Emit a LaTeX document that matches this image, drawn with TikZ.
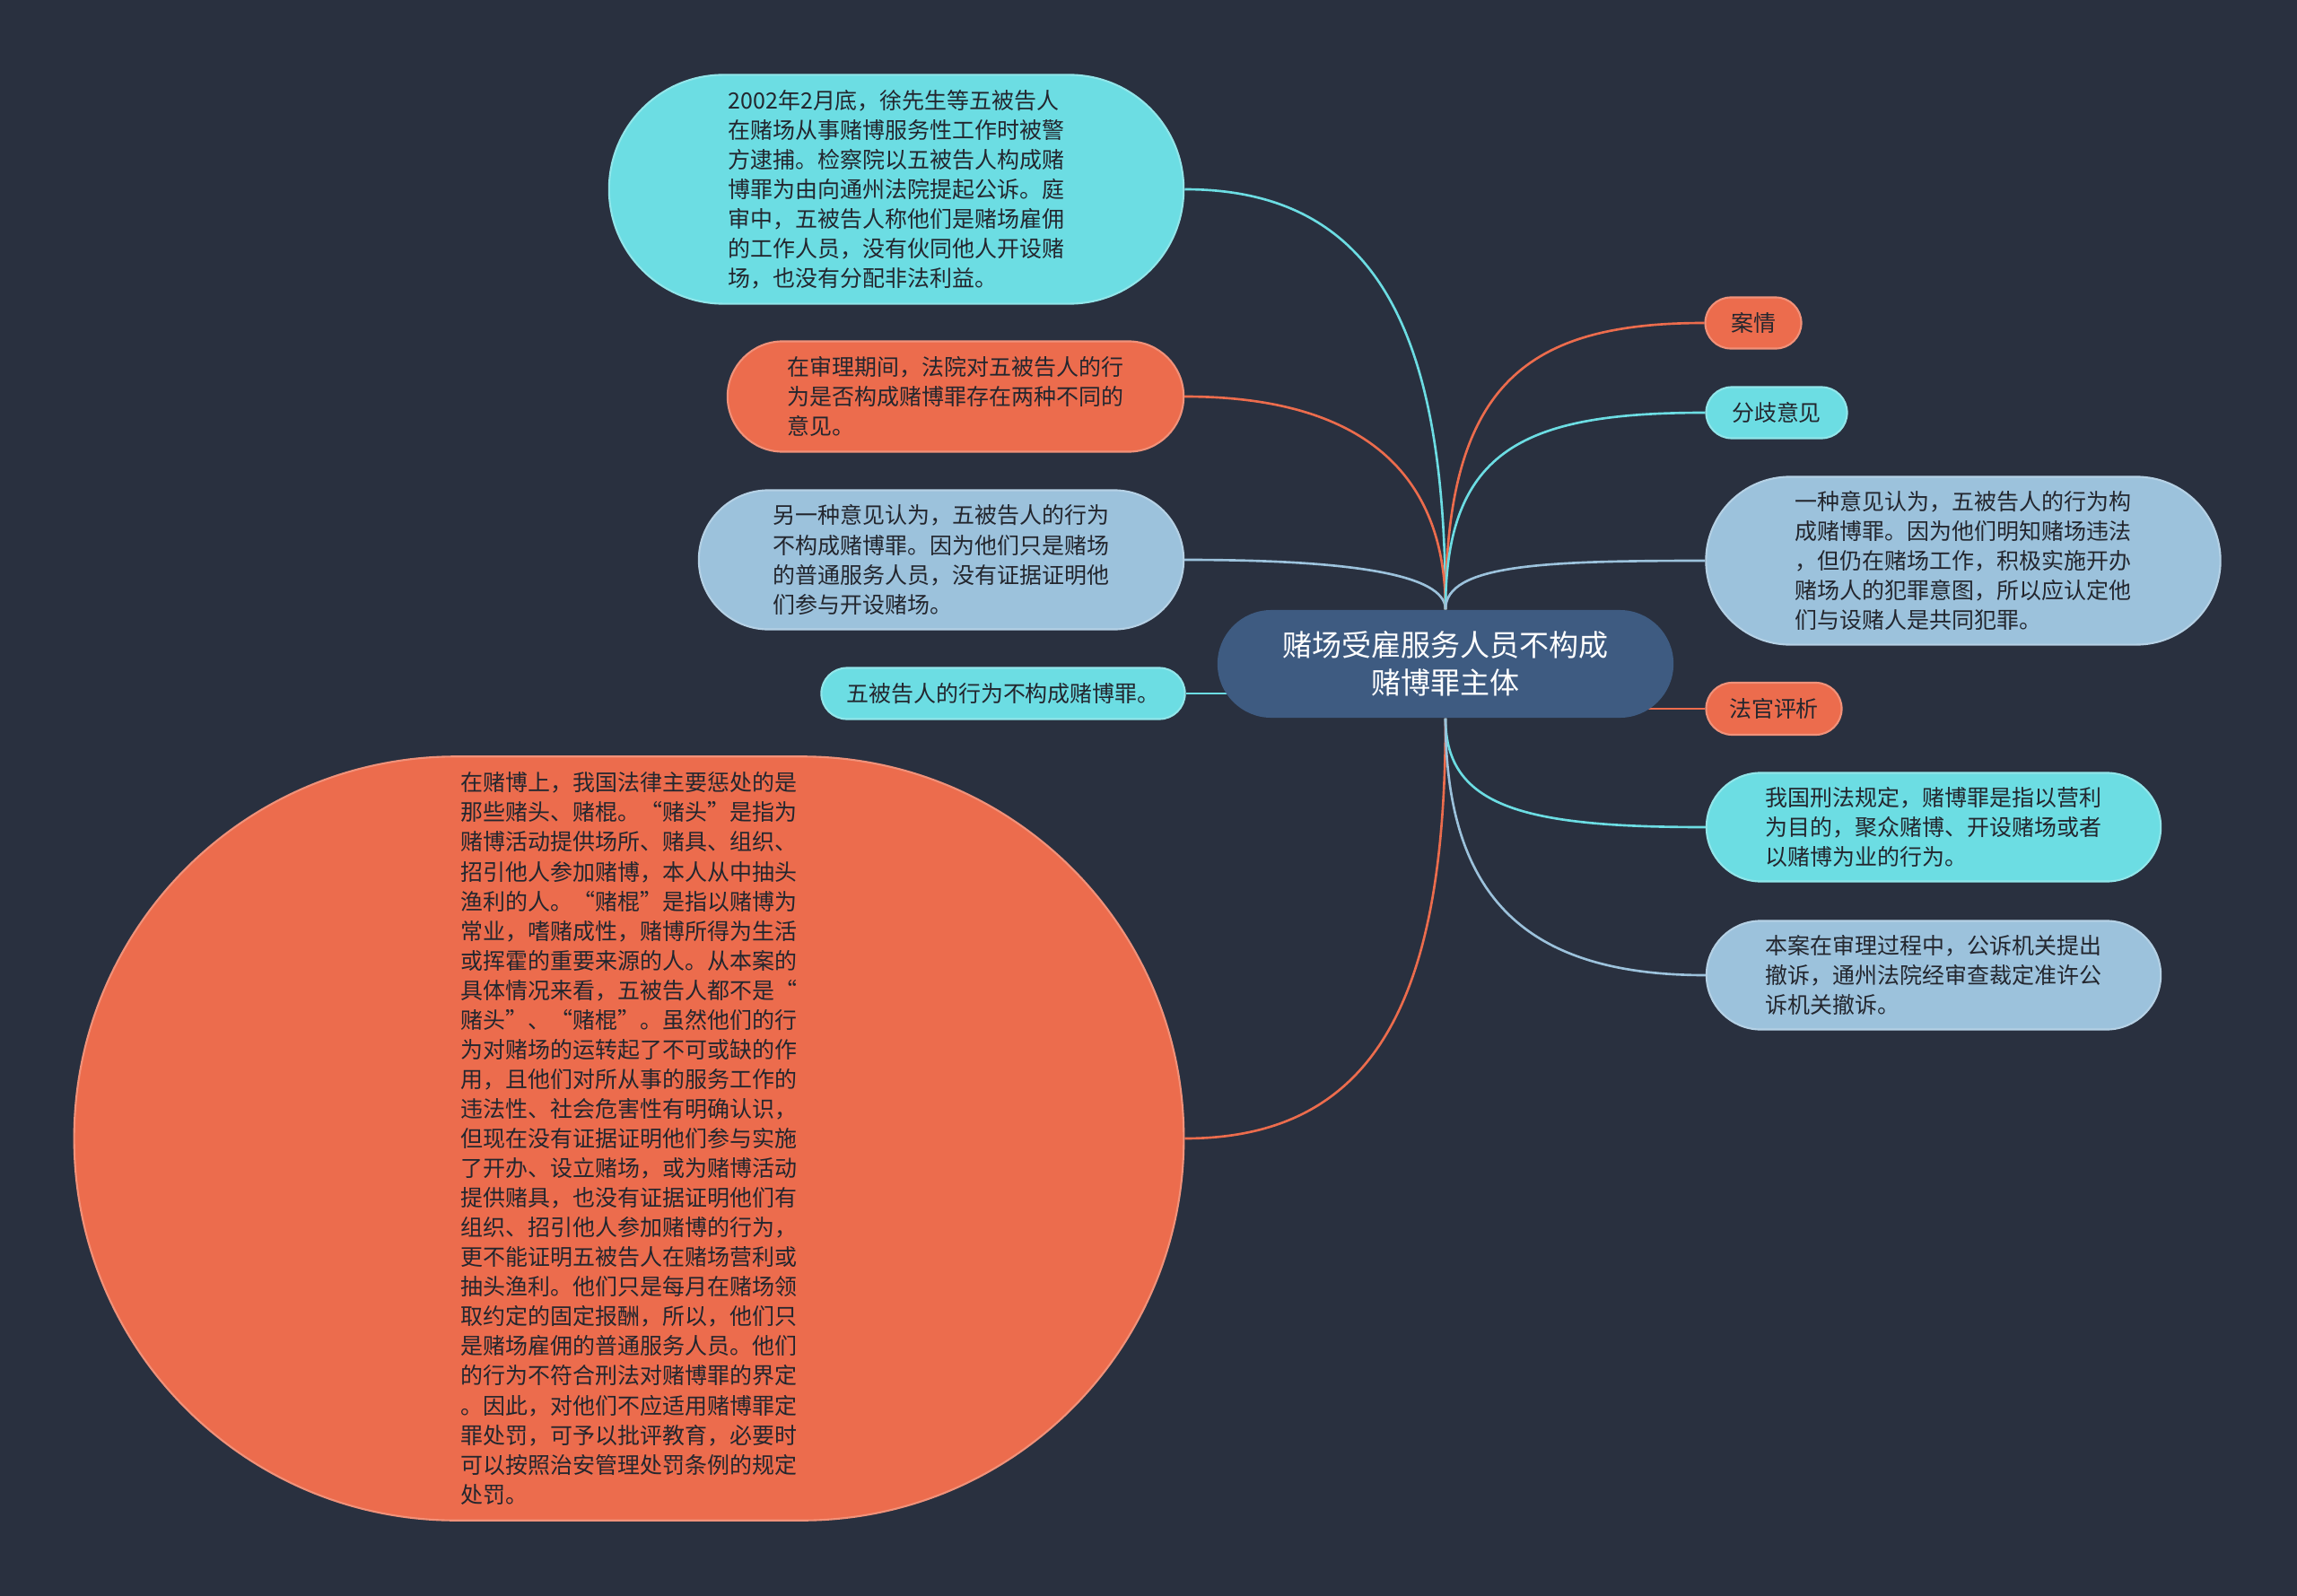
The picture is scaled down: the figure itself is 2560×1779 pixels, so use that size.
\documentclass[tikz,border=0pt]{standalone}
\usepackage{fontspec}
\setmainfont{Noto Sans CJK SC}
\usepackage{tikz}
\usetikzlibrary{calc}
\usetikzlibrary{backgrounds}
\definecolor{bg}{HTML}{29303F}
\definecolor{rootblue}{HTML}{3E5B81}
\definecolor{coral}{HTML}{EC6C4D}
\definecolor{aqua}{HTML}{6CDDE3}
\definecolor{pale}{HTML}{9CC2DC}
\definecolor{ink}{HTML}{23262E}

\begin{document}
\begin{tikzpicture}[x=0.01cm, y=-0.01cm,
      pill/.style 2 args={inner sep=0pt, minimum width=#1cm, minimum height=#2cm,
                          rounded corners=#2cm/2, align=left, text=ink,
                          font=\fontsize{7.1pt}{9.4pt}\selectfont},
      coralpill/.style={fill=coral, draw=coral!75!white, line width=0.6pt},
      aquapill/.style={fill=aqua, draw=aqua!75!white, line width=0.6pt},
      palepill/.style={fill=pale, draw=pale!75!white, line width=0.6pt},
      link/.style={line width=0.75pt}
      ]
      % canvas
      \useasboundingbox (0,0) rectangle (2560,1779);

      % centre
      \node[pill={5.08}{1.20}, fill=rootblue, text=white, align=center,
            font=\fontsize{9.4pt}{11.95pt}\selectfont] (Root) at (1611,740)
            {赌场受雇服务人员不构成\\赌博罪主体};

      % left side
      \node[pill={6.40}{2.55}, aquapill] (CaseText) at (999,211)
            {2002年2月底，徐先生等五被告人\\
             在赌场从事赌博服务性工作时被警\\
             方逮捕。检察院以五被告人构成赌\\
             博罪为由向通州法院提起公诉。庭\\
             审中，五被告人称他们是赌场雇佣\\
             的工作人员，没有伙同他人开设赌\\
             场，也没有分配非法利益。};
      \node[pill={5.08}{1.23}, coralpill] (SplitText) at (1065,442)
            {在审理期间，法院对五被告人的行\\
             为是否构成赌博罪存在两种不同的\\
             意见。};
      \node[pill={5.40}{1.55}, palepill] (OpinionB) at (1049,624)
            {另一种意见认为，五被告人的行为\\
             不构成赌博罪。因为他们只是赌场\\
             的普通服务人员，没有证据证明他\\
             们参与开设赌场。};
      \node[pill={4.05}{0.57}, aquapill] (Verdict) at (1118,773)
            {五被告人的行为不构成赌博罪。};
      \node[pill={12.36}{8.51}, coralpill] (Analysis) at (701,1269)
            {在赌博上，我国法律主要惩处的是\\
             那些赌头、赌棍。“赌头”是指为\\
             赌博活动提供场所、赌具、组织、\\
             招引他人参加赌博，本人从中抽头\\
             渔利的人。“赌棍”是指以赌博为\\
             常业，嗜赌成性，赌博所得为生活\\
             或挥霍的重要来源的人。从本案的\\
             具体情况来看，五被告人都不是“\\
             赌头”、“赌棍”。虽然他们的行\\
             为对赌场的运转起了不可或缺的作\\
             用，且他们对所从事的服务工作的\\
             违法性、社会危害性有明确认识，\\
             但现在没有证据证明他们参与实施\\
             了开办、设立赌场，或为赌博活动\\
             提供赌具，也没有证据证明他们有\\
             组织、招引他人参加赌博的行为，\\
             更不能证明五被告人在赌场营利或\\
             抽头渔利。他们只是每月在赌场领\\
             取约定的固定报酬，所以，他们只\\
             是赌场雇佣的普通服务人员。他们\\
             的行为不符合刑法对赌博罪的界定\\
             。因此，对他们不应适用赌博罪定\\
             罪处罚，可予以批评教育，必要时\\
             可以按照治安管理处罚条例的规定\\
             处罚。};

      % right side
      \node[pill={1.07}{0.57}, coralpill] (Case) at (1954,360) {案情};
      \node[pill={1.57}{0.57}, aquapill] (Split) at (1980,460) {分歧意见};
      \node[pill={5.73}{1.87}, palepill] (OpinionA) at (2188,625)
            {一种意见认为，五被告人的行为构\\
             成赌博罪。因为他们明知赌场违法\\
             ，但仍在赌场工作，积极实施开办\\
             赌场人的犯罪意图，所以应认定他\\
             们与设赌人是共同犯罪。};
      \node[pill={1.51}{0.58}, coralpill] (Judge) at (1977,790) {法官评析};
      \node[pill={5.06}{1.21}, aquapill] (LawText) at (2155,922)
            {我国刑法规定，赌博罪是指以营利\\
             为目的，聚众赌博、开设赌场或者\\
             以赌博为业的行为。};
      \node[pill={5.06}{1.21}, palepill] (Outcome) at (2155,1087)
            {本案在审理过程中，公诉机关提出\\
             撤诉，通州法院经审查裁定准许公\\
             诉机关撤诉。};

      % links
      \begin{scope}[on background layer]
      \fill[bg] (0,0) rectangle (2560,1779);
      \draw[link, aqua] (CaseText.east) .. controls ($(CaseText.east)+(220,0)$) and ($(Root.north)+(0,-300)$) .. (Root.north);
      \draw[link, coral] (SplitText.east) .. controls ($(SplitText.east)+(200,0)$) and ($(Root.north)+(0,-150)$) .. (Root.north);
      \draw[link, pale] (OpinionB.east) .. controls ($(OpinionB.east)+(180,0)$) and ($(Root.north)+(0,-40)$) .. (Root.north);
      \draw[link, aqua] (Verdict.east) -- (Verdict.east -| Root.center);
      \draw[link, coral] (Analysis.east) .. controls ($(Analysis.east)+(220,0)$) and ($(Root.south)+(0,300)$) .. (Root.south);
      \draw[link, coral] (Case.west) .. controls ($(Case.west)+(-200,0)$) and ($(Root.north)+(0,-250)$) .. (Root.north);
      \draw[link, aqua] (Split.west) .. controls ($(Split.west)+(-200,0)$) and ($(Root.north)+(0,-180)$) .. (Root.north);
      \draw[link, pale] (OpinionA.west) .. controls ($(OpinionA.west)+(-180,0)$) and ($(Root.north)+(0,-50)$) .. (Root.north);
      \draw[link, coral] (Judge.west) -- (Judge.west -| Root.center);
      \draw[link, aqua] (LawText.west) .. controls ($(LawText.west)+(-200,0)$) and ($(Root.south)+(0,100)$) .. (Root.south);
      \draw[link, pale] (Outcome.west) .. controls ($(Outcome.west)+(-200,0)$) and ($(Root.south)+(0,200)$) .. (Root.south);
      \end{scope}
    \end{tikzpicture}
\end{document}
